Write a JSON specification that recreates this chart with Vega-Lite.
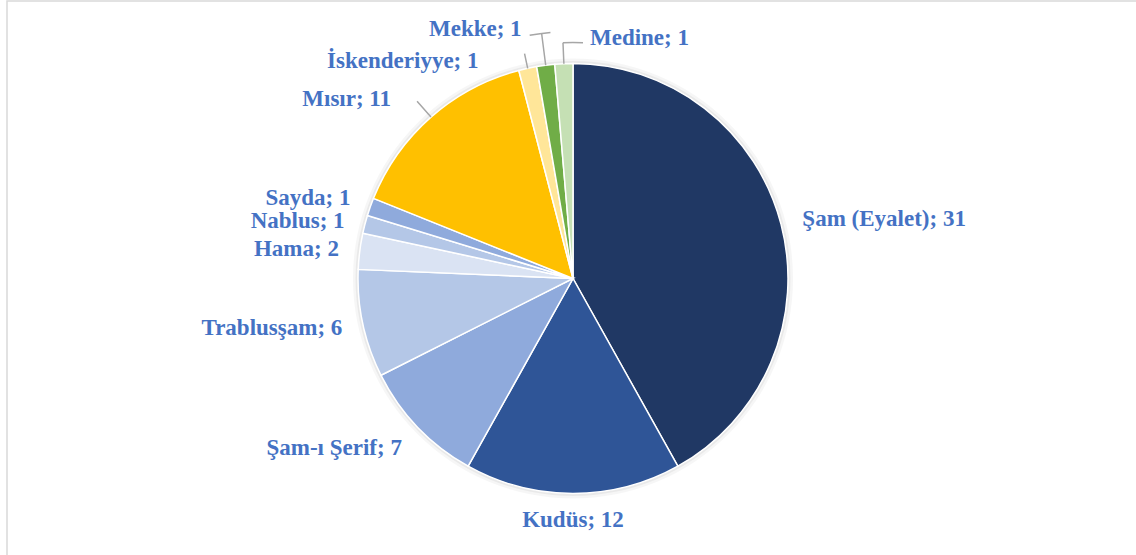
{
  "$schema": "https://vega.github.io/schema/vega-lite/v6.json",
  "width": 1132,
  "height": 555,
  "autosize": "none",
  "padding": {"left": 7, "top": 1, "right": 0, "bottom": 0},
  "background": "#FFFFFF",
  "config": {"view": {"stroke": null}},
  "data": {
    "values": [
      {"order": 1, "name": "Şam (Eyalet)", "value": 31, "label": "Şam (Eyalet); 31"},
      {"order": 2, "name": "Kudüs", "value": 12, "label": "Kudüs; 12"},
      {"order": 3, "name": "Şam-ı Şerif", "value": 7, "label": "Şam-ı Şerif; 7"},
      {"order": 4, "name": "Trablusşam", "value": 6, "label": "Trablusşam; 6"},
      {"order": 5, "name": "Hama", "value": 2, "label": "Hama; 2"},
      {"order": 6, "name": "Nablus", "value": 1, "label": "Nablus; 1"},
      {"order": 7, "name": "Sayda", "value": 1, "label": "Sayda; 1"},
      {"order": 8, "name": "Mısır", "value": 11, "label": "Mısır; 11"},
      {"order": 9, "name": "İskenderiyye", "value": 1, "label": "İskenderiyye; 1"},
      {"order": 10, "name": "Mekke", "value": 1, "label": "Mekke; 1"},
      {"order": 11, "name": "Medine", "value": 1, "label": "Medine; 1"}
    ]
  },
  "layer": [
    {
      "data": {"values": [{"frame": "chart area"}]},
      "mark": {"type": "rect", "fill": "#FFFFFF", "stroke": "#D9D9D9", "strokeWidth": 1.5},
      "encoding": {
        "x": {"value": 0},
        "x2": {"value": "width"},
        "y": {"value": 0},
        "y2": {"value": "height"}
      }
    },
    {
      "data": {"values": [{"shadow": "pie"}]},
      "mark": {"type": "arc", "theta": 0, "theta2": 6.2832, "radius": 220, "fill": "#000000", "opacity": 0.035},
      "encoding": {}
    },
    {
      "data": {"values": [{"shadow": "pie"}]},
      "mark": {"type": "arc", "theta": 0, "theta2": 6.2832, "radius": 217.5, "fill": "#000000", "opacity": 0.05},
      "encoding": {}
    },
    {
      "mark": {"type": "arc", "radius": 215, "stroke": "#FFFFFF", "strokeWidth": 1.5},
      "encoding": {
        "theta": {"field": "value", "type": "quantitative", "stack": true},
        "order": {"field": "order", "type": "quantitative"},
        "color": {
          "field": "name",
          "type": "nominal",
          "scale": {
            "domain": ["Şam (Eyalet)", "Kudüs", "Şam-ı Şerif", "Trablusşam", "Hama", "Nablus", "Sayda", "Mısır", "İskenderiyye", "Mekke", "Medine"],
            "range": ["#203864", "#2F5597", "#8FAADC", "#B4C7E7", "#DAE3F3", "#B4C7E7", "#8FAADC", "#FFC000", "#FFE699", "#70AD47", "#C5E0B4"]
          },
          "legend": null
        }
      }
    },
    {
      "mark": {"type": "arc", "radius": 236, "radius2": 215, "padAngle": 1, "stroke": "#A6A6A6", "strokeWidth": 1.5, "fillOpacity": 0},
      "encoding": {
        "theta": {"field": "value", "type": "quantitative", "stack": true},
        "order": {"field": "order", "type": "quantitative"},
        "strokeOpacity": {"condition": {"test": "datum.order === 8", "value": 1}, "value": 0}
      }
    },
    {
      "mark": {"type": "arc", "radius": 230, "radius2": 215, "padAngle": 1, "stroke": "#A6A6A6", "strokeWidth": 1.5, "fillOpacity": 0},
      "encoding": {
        "theta": {"field": "value", "type": "quantitative", "stack": true},
        "order": {"field": "order", "type": "quantitative"},
        "strokeOpacity": {"condition": {"test": "datum.order === 9", "value": 1}, "value": 0}
      }
    },
    {
      "mark": {"type": "arc", "radius": 247, "radius2": 215, "padAngle": 1, "stroke": "#A6A6A6", "strokeWidth": 1.5, "fillOpacity": 0},
      "encoding": {
        "theta": {"field": "value", "type": "quantitative", "stack": true},
        "order": {"field": "order", "type": "quantitative"},
        "strokeOpacity": {"condition": {"test": "datum.order === 10", "value": 1}, "value": 0}
      }
    },
    {
      "mark": {"type": "arc", "radius": 236, "radius2": 215, "padAngle": 1, "stroke": "#A6A6A6", "strokeWidth": 1.5, "fillOpacity": 0},
      "encoding": {
        "theta": {"field": "value", "type": "quantitative", "stack": true},
        "order": {"field": "order", "type": "quantitative"},
        "strokeOpacity": {"condition": {"test": "datum.order === 11", "value": 1}, "value": 0}
      }
    },
    {
      "mark": {"type": "arc", "radius": 247, "radius2": 247, "thetaOffset": -0.0065, "theta2Offset": -0.0426, "stroke": "#A6A6A6", "strokeWidth": 1.5, "fillOpacity": 0},
      "encoding": {
        "theta": {"field": "value", "type": "quantitative", "stack": true},
        "order": {"field": "order", "type": "quantitative"},
        "strokeOpacity": {"condition": {"test": "datum.order === 10", "value": 1}, "value": 0}
      }
    },
    {
      "mark": {"type": "arc", "radius": 236, "radius2": 236, "thetaOffset": 0.0424, "theta2Offset": 0.0436, "stroke": "#A6A6A6", "strokeWidth": 1.5, "fillOpacity": 0},
      "encoding": {
        "theta": {"field": "value", "type": "quantitative", "stack": true},
        "order": {"field": "order", "type": "quantitative"},
        "strokeOpacity": {"condition": {"test": "datum.order === 11", "value": 1}, "value": 0}
      }
    },
    {
      "mark": {"type": "text", "radius": 237, "align": "left", "baseline": "middle", "font": "Liberation Serif", "fontWeight": "bold", "fontSize": 23, "fill": "#4472C4"},
      "encoding": {
        "theta": {"field": "value", "type": "quantitative", "stack": true},
        "order": {"field": "order", "type": "quantitative"},
        "text": {"condition": {"test": "datum.order === 1", "field": "label", "type": "nominal"}, "value": ""}
      }
    },
    {
      "mark": {"type": "text", "radius": 241.5, "align": "center", "baseline": "middle", "font": "Liberation Serif", "fontWeight": "bold", "fontSize": 23, "fill": "#4472C4"},
      "encoding": {
        "theta": {"field": "value", "type": "quantitative", "stack": true},
        "order": {"field": "order", "type": "quantitative"},
        "text": {"condition": {"test": "datum.order === 2", "field": "label", "type": "nominal"}, "value": ""}
      }
    },
    {
      "mark": {"type": "text", "radius": 237, "dy": 6, "align": "right", "baseline": "middle", "font": "Liberation Serif", "fontWeight": "bold", "fontSize": 23, "fill": "#4472C4"},
      "encoding": {
        "theta": {"field": "value", "type": "quantitative", "stack": true},
        "order": {"field": "order", "type": "quantitative"},
        "text": {"condition": {"test": "datum.order === 3", "field": "label", "type": "nominal"}, "value": ""}
      }
    },
    {
      "mark": {"type": "text", "radius": 236, "align": "right", "baseline": "middle", "font": "Liberation Serif", "fontWeight": "bold", "fontSize": 23, "fill": "#4472C4"},
      "encoding": {
        "theta": {"field": "value", "type": "quantitative", "stack": true},
        "order": {"field": "order", "type": "quantitative"},
        "text": {"condition": {"test": "datum.order === 4 || datum.order === 5", "field": "label", "type": "nominal"}, "value": ""}
      }
    },
    {
      "mark": {"type": "text", "radius": 236, "dy": 1.5, "align": "right", "baseline": "middle", "font": "Liberation Serif", "fontWeight": "bold", "fontSize": 23, "fill": "#4472C4"},
      "encoding": {
        "theta": {"field": "value", "type": "quantitative", "stack": true},
        "order": {"field": "order", "type": "quantitative"},
        "text": {"condition": {"test": "datum.order === 6", "field": "label", "type": "nominal"}, "value": ""}
      }
    },
    {
      "mark": {"type": "text", "radius": 236, "dy": -2, "align": "right", "baseline": "middle", "font": "Liberation Serif", "fontWeight": "bold", "fontSize": 23, "fill": "#4472C4"},
      "encoding": {
        "theta": {"field": "value", "type": "quantitative", "stack": true},
        "order": {"field": "order", "type": "quantitative"},
        "text": {"condition": {"test": "datum.order === 7", "field": "label", "type": "nominal"}, "value": ""}
      }
    },
    {
      "mark": {"type": "text", "radius": 236, "dx": -26, "dy": -2, "align": "right", "baseline": "middle", "font": "Liberation Serif", "fontWeight": "bold", "fontSize": 23, "fill": "#4472C4"},
      "encoding": {
        "theta": {"field": "value", "type": "quantitative", "stack": true},
        "order": {"field": "order", "type": "quantitative"},
        "text": {"condition": {"test": "datum.order === 8", "field": "label", "type": "nominal"}, "value": ""}
      }
    },
    {
      "mark": {"type": "text", "radius": 230, "dx": -46, "dy": 7, "align": "right", "baseline": "middle", "font": "Liberation Serif", "fontWeight": "bold", "fontSize": 23, "fill": "#4472C4"},
      "encoding": {
        "theta": {"field": "value", "type": "quantitative", "stack": true},
        "order": {"field": "order", "type": "quantitative"},
        "text": {"condition": {"test": "datum.order === 9", "field": "label", "type": "nominal"}, "value": ""}
      }
    },
    {
      "mark": {"type": "text", "radius": 247, "dx": -20, "dy": -5, "align": "right", "baseline": "middle", "font": "Liberation Serif", "fontWeight": "bold", "fontSize": 23, "fill": "#4472C4"},
      "encoding": {
        "theta": {"field": "value", "type": "quantitative", "stack": true},
        "order": {"field": "order", "type": "quantitative"},
        "text": {"condition": {"test": "datum.order === 10", "field": "label", "type": "nominal"}, "value": ""}
      }
    },
    {
      "mark": {"type": "text", "radius": 236, "dx": 27, "dy": -5, "align": "left", "baseline": "middle", "font": "Liberation Serif", "fontWeight": "bold", "fontSize": 23, "fill": "#4472C4"},
      "encoding": {
        "theta": {"field": "value", "type": "quantitative", "stack": true},
        "order": {"field": "order", "type": "quantitative"},
        "text": {"condition": {"test": "datum.order === 11", "field": "label", "type": "nominal"}, "value": ""}
      }
    }
  ]
}
